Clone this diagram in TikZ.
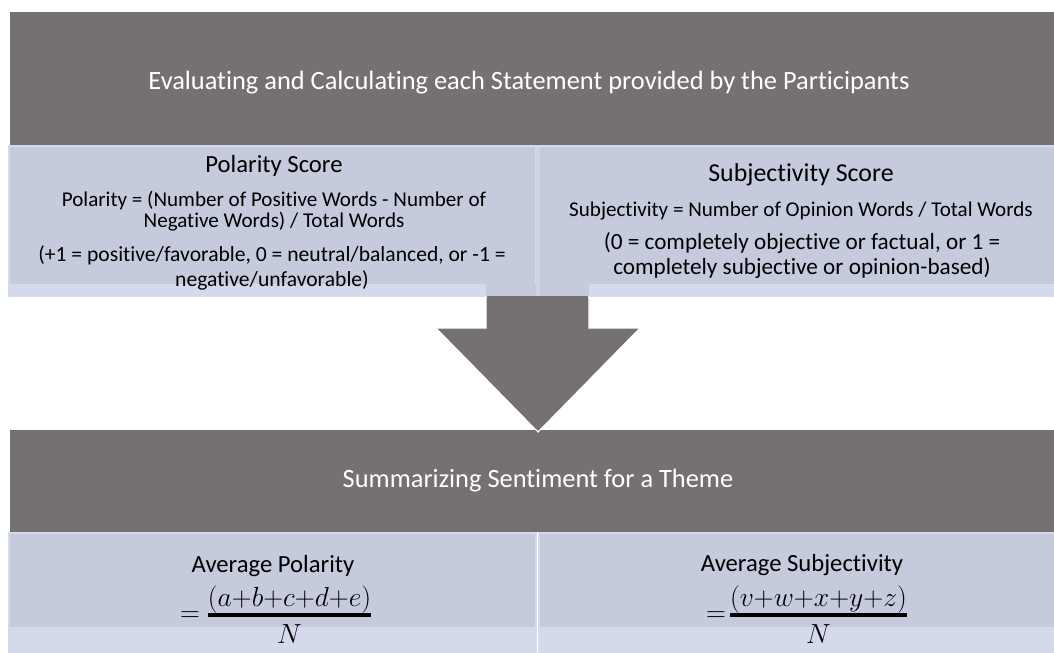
\documentclass[tikz,border=0pt]{standalone}
\usepackage{amsmath}
\usepackage{fontspec}
\setmainfont[Ligatures=NoCommon]{Carlito}
\definecolor{headgray}{RGB}{118,113,113}
\definecolor{boxblue}{RGB}{198,202,221}
\definecolor{stripblue}{RGB}{212,217,235}
\definecolor{edgegray}{RGB}{165,165,178}
\usetikzlibrary{positioning}
\tikzstyle{headtxt}=[text=white,font=\fontsize{19.8}{23}\selectfont,inner sep=0pt]
\tikzstyle{scorehead}=[text=black,font=\fontsize{18.5}{22}\selectfont,inner sep=0pt]
\tikzstyle{scoretxt}=[text=black,align=center,font=\fontsize{15.8}{15.75}\selectfont,inner sep=0pt]
\tikzstyle{rangetxt}=[text=black,align=center,font=\fontsize{16.2}{18.75}\selectfont,inner sep=0pt]
\tikzstyle{avgtxt}=[text=black,font=\fontsize{18.5}{22}\selectfont,inner sep=0pt]
\tikzstyle{fractxt}=[text=black,font=\fontsize{20}{24}\selectfont,inner sep=0pt]
\tikzstyle{fracbar}=[line width=2.8pt]

\begin{document}
\begin{tikzpicture}[x=0.75pt,y=-0.75pt]
\useasboundingbox (0,0) rectangle (1054,653);

% header bands
\fill[headgray] (10,12) rectangle (1054,145);
\fill[headgray] (10,430) rectangle (1054,532);
\draw[edgegray,line width=0.6pt] (10,145) -- (1054,145);

% score boxes, upper row
\fill[stripblue] (8,145) rectangle (537,297);
\fill[stripblue] (538,145) rectangle (1054,297);
\fill[boxblue] (10,147) rectangle (535,284);
\fill[boxblue] (540,147) rectangle (1054,284);
\fill[boxblue] (486,284) rectangle (589,297);
\fill[stripblue!60!boxblue] (535.5,147) rectangle (539.5,297);

% average boxes, lower row
\fill[stripblue] (8,532) rectangle (537,653);
\fill[stripblue] (538,532) rectangle (1054,653);
\fill[boxblue] (10,534) rectangle (535,627);
\fill[boxblue] (540,534) rectangle (1054,627);

% down arrow
\coordinate (tip) at (538,432);
\filldraw[fill=headgray,draw=white,line width=0.8pt]
  (486,297) -- (589,297) -- (589,328) -- (640,328) -- (tip) -- (436,328) -- (486,328) -- cycle;
\fill[headgray] (487,296) rectangle (588,300);

\node[headtxt] (evalhead) at (529,83) {Evaluating and Calculating each Statement provided by the Participants};
\node[headtxt] (sumhead) at (538,481) {Summarizing Sentiment for a Theme};

\node[scorehead] (polhead) at (274,166) {Polarity Score};
\node[scoretxt] (polform) at (274,211) {Polarity = (Number of Positive Words - Number of\\Negative Words) / Total Words};
\node[rangetxt] (polrange) at (272,268) {(+1 = positive/favorable, 0 = neutral/balanced, or -1 =\\negative/unfavorable)};

\node[scorehead,font=\fontsize{19.4}{22}\selectfont] (subhead) at (801,175) {Subjectivity Score};
\node[scoretxt] (subform) at (801,211) {Subjectivity = Number of Opinion Words / Total Words};
\node[rangetxt,font=\fontsize{17.4}{18.75}\selectfont] (subrange) at (802,256) {(0 = completely objective or factual, or 1 =\\completely subjective or opinion-based)};

% averages
\node[avgtxt] (avgpol) at (273,566) {Average Polarity};
\node[fractxt] (polnum) at (289.5,599.5) {$(a{+}b{+}c{+}d{+}e)$};
\node[fractxt] (polden) at (289.5,634) {$N$};
\node[fractxt] (poleq) at (190,617) {$=$};
\draw[fracbar] (polnum.west |- 0,615) -- (polnum.east |- 0,615);

\node[avgtxt] (avgsub) at (802,565) {Average Subjectivity};
\node[fractxt] (subnum) at (818.5,599.5) {$(v{+}w{+}x{+}y{+}z)$};
\node[fractxt] (subden) at (818.5,634) {$N$};
\node[fractxt] (subeq) at (716,617) {$=$};
\draw[fracbar] (subnum.west |- 0,615) -- (subnum.east |- 0,615);
\end{tikzpicture}
\end{document}
